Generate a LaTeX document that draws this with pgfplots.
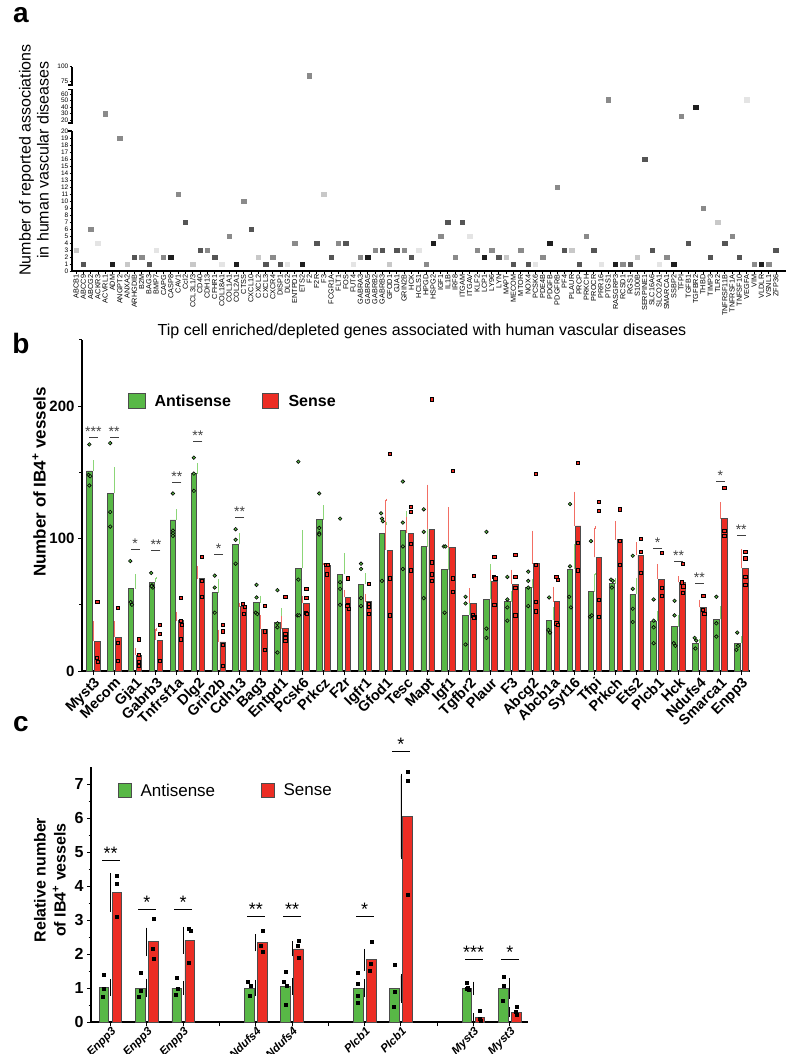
\documentclass[border=0pt]{standalone}
\usepackage{fontspec}
\setmainfont{Liberation Sans}
\usepackage{pgfplots}
\pgfplotsset{compat=1.18}
\definecolor{bgreen}{RGB}{88,184,70}
\definecolor{bred}{RGB}{236,45,36}
\definecolor{egreen}{RGB}{140,214,120}
\definecolor{ered}{RGB}{242,110,100}
\newcommand{\fs}[1]{\fontsize{#1}{#1}\selectfont}
\pgfplotsset{
  /pgf/number format/assume math mode=true,
}
\begin{document}
\begin{tikzpicture}
\useasboundingbox (0,0) rectangle (800bp,-1054bp);
% ---------------- panel labels
\node[font=\fs{28bp}\bfseries] at (21bp,-15bp) {a};
\node[font=\fs{28bp}\bfseries] at (21bp,-343bp) {b};
\node[font=\fs{28bp}\bfseries] at (21bp,-724bp) {c};
% ---------------- panel a
\node[rotate=90, align=center, font=\fontsize{16bp}{18bp}\selectfont] at (34bp,-160bp) {Number of reported associations\\in human vascular diseases};
\node[font=\fs{16bp}] at (422bp,-331bp) {Tip cell enriched/depleted genes associated with human vascular diseases};
\begin{axis}[
 at={(72bp,-271bp)}, anchor=south west, scale only axis,
 width=714bp, height=204.3bp,
 xmin=-0.55, xmax=97.39, ymin=0, ymax=29.19,
 axis x line*=bottom, axis y line*=left,
 x axis line style={line width=1.3bp,-},
 y axis line style={draw=none},
 clip=false,
 tick align=outside, major tick length=2.5bp,
 tick style={line width=0.7bp, black},
 xtick={0,...,96},
 xticklabels={ABCB1,ABCC9,ABCG2,ACKR3,ACVRL1,ADM,ANGPT2,ANXA2,ARHGDIB,B2M,BAG3,BMP7,CAPG,CASP8,CAV1,Ccl2,CCL3L1/3,CD40,CDH13,CFHR1,COL18A1,COL1A1,COL2A1,CTSS,CXCL10,CXCL2,CXCL3,CXCR4,DISP1,DLG2,ENTPD1,ETS2,F2,F2R,F3,FCGR1A,FLT1,FOS,FUT4,GABRA3,GABRA5,GABRB2,GABRB3,GFOD1,GJA1,GRIN2B,HCK,HCLS1,HPGD,HSPG2,IGF1,IL1B,IRF8,ITGAM,ITGAV,KLF2,LCP1,LY96,LYN,MAPT,MECOM,MTOR,NOX4,PCSK6,PDE4B,PDGFB,PDGFRB,PF4,PLAUR,PRCP,PRKCH,PROCR,PRR16,PTGS1,RASGRP3,RCSD1,RGS1,S100B,SERPINE1,SLC16A6,SLCO2A1,SMARCA1,SSBP2,TFPI,TGFB1,TGFBR2,THBD,TIMP3,TLR2,TNFRSF11B,TNFRSF1A,TNFSF10,VEGFA,VIM,VLDLR,VSNL1,ZFP36},
 x tick label style={rotate=90, anchor=east, font=\fs{7.3bp}, inner sep=1bp},
 ytick={0,1,2,3,4,5,6,7,8,9,10,11,12,13,14,15,16,17,18,19,20,21.57,22.50,23.43,24.36,25.29,27.14,29.19},
 yticklabels={0,1,2,3,4,5,6,7,8,9,10,11,12,13,14,15,16,17,18,19,20,20,30,40,50,60,75,100},
 y tick label style={font=\fs{6.5bp}, inner sep=1bp},
 point meta min=0, point meta max=4,
 colormap={grays}{rgb255=(30,30,30) rgb255=(85,85,85) rgb255=(138,138,138) rgb255=(200,200,200) rgb255=(228,228,228)},
]
\addplot[scatter, only marks, mark=square*, mark size=2.2bp, scatter src=explicit,
  scatter/use mapped color={draw=mapped color, fill=mapped color}]
 table[x=x, y=y, meta=s] {
x y s
0 3 3
1 1 1
2 6 2
3 4 4
4 22.50 2
5 1 0
6 19 2
7 1 3
8 2 1
9 2 2
10 1 1
11 3 4
12 2 2
13 2 0
14 11 2
15 7 1
16 1 3
17 3 1
18 3 2
19 2 1
20 1 4
21 5 2
22 1 0
23 10 2
24 6 1
25 2 3
26 1 1
27 2 2
28 1 1
29 1 4
30 4 2
31 1 0
32 27.88 2
33 4 1
34 11 3
35 2 1
36 4 2
37 4 1
38 1 4
39 2 2
40 2 0
41 3 2
42 3 1
43 1 3
44 3 1
45 3 2
46 2 1
47 3 4
48 1 2
49 4 0
50 5 2
51 7 1
52 2 2
53 7 1
54 5 4
55 3 2
56 2 0
57 3 2
58 2 1
59 2 3
60 1 1
61 3 2
62 1 1
63 1 4
64 2 2
65 4 0
66 12 2
67 3 1
68 3 3
69 1 1
70 5 2
71 3 1
72 1 4
73 24.45 2
74 1 0
75 1 2
76 1 1
77 2 3
78 16 1
79 3 1
80 1 4
81 2 2
82 1 0
83 22.13 2
84 4 1
85 23.43 0
86 9 2
87 2 1
88 7 3
89 4 1
90 5 2
91 2 1
92 24.45 4
93 1 2
94 1 0
95 1 2
96 3 1
};
% broken y axis
\draw[line width=1.3bp] (axis cs:-0.55,0) -- (axis cs:-0.55,20);
\draw[line width=1.3bp] ([xshift=-4bp]axis cs:-0.55,20) -- (axis cs:-0.55,20);
\draw[line width=1.3bp] ([xshift=-4bp]axis cs:-0.55,21.14) -- (axis cs:-0.55,21.14) -- (axis cs:-0.55,25.93) -- ([xshift=-4bp]axis cs:-0.55,25.93);
\draw[line width=1.3bp] ([xshift=-4bp]axis cs:-0.55,26.57) -- (axis cs:-0.55,26.57) -- (axis cs:-0.55,29.19);
\end{axis}
% ---------------- panel b
\node[rotate=90, font=\fs{17bp}\bfseries] at (39bp,-482bp) {Number of IB4\textsuperscript{+} vessels};
\fill[bgreen, draw=black!70, line width=0.8bp] (128bp,-393bp) rectangle (145bp,-408bp);
\node[anchor=west, font=\fs{16bp}\bfseries] at (151bp,-400.5bp) {Antisense};
\fill[bred, draw=black!70, line width=0.8bp] (262bp,-393bp) rectangle (278bp,-408bp);
\node[anchor=west, font=\fs{16bp}\bfseries] at (285bp,-400.5bp) {Sense};
\begin{axis}[
 at={(82bp,-671bp)}, anchor=south west, scale only axis,
 width=668bp, height=331.25bp,
 xmin=-0.54, xmax=31.42, ymin=0, ymax=250,
 axis x line*=bottom, axis y line*=left,
 axis line style={line width=1.4bp,-},
 clip=false,
 tick align=outside, major tick length=4bp,
 tick style={line width=1bp, black},
 ytick={0,100,200}, minor ytick={50,150,250}, minor tick length=3bp,
 y tick label style={font=\fs{15bp}\bfseries},
 xtick={0,...,31},
 xticklabels={Myst3,Mecom,Gja1,Gabrb3,Tnfrsf1a,Dlg2,Grin2b,Cdh13,Bag3,Entpd1,Pcsk6,Prkcz,F2r,Igfr1,Gfod1,Tesc,Mapt,Igf1,Tgfbr2,Plaur,F3,Abcg2,Abcb1a,Syt16,Tfpi,Prkch,Ets2,Plcb1,Hck,Ndufs4,Smarca1,Enpp3},
 x tick label style={rotate=45, anchor=north east, font=\fs{14.5bp}\bfseries, inner sep=1bp},
]
\addplot[ybar, bar width=5.5bp, bar shift=-4bp, fill=bgreen, draw=black!70, line width=0.8bp,
  error bars/.cd, y dir=plus, y explicit,
  error bar style={color=egreen, line width=1bp},
  error mark options={color=egreen, mark size=1.2bp, line width=0.8bp}]
 table[x=x, y=m, y error=e] {
x m e
0 151 7
1 134 19
2 62 10
3 67 3
4 114 7
5 149 7
6 59 9.6
7 95.5 7.5
8 51.5 4.5
9 36.4 10
10 77.5 28
11 114.3 10
12 73 15
13 65.3 7.7
14 103.8 7.5
15 105.8 14
16 93.7 20.3
17 76.6 17
18 42 11.5
19 54 26
20 52.3 7
21 63 5.6
22 38.4 8.8
23 76.9 18
24 59.8 13.2
25 66 3
26 57.8 11.5
27 37.7 7
28 33.4 8.3
29 20.9 2
30 38.9 9
31 20.9 4.5
};
\addplot[ybar, bar width=5.5bp, bar shift=4bp, fill=bred, draw=black!70, line width=0.8bp,
  error bars/.cd, y dir=plus, y explicit,
  error bar style={color=ered, line width=1bp},
  error mark options={color=ered, mark size=1.2bp, line width=0.8bp}]
 table[x=x, y=m, y error=e] {
x m e
0 22.6 14.4
1 25.6 11.4
2 12 4.6
3 23.4 8
4 37.9 6
5 69.6 9
6 21.9 8.5
7 48.5 2
8 31.4 10
9 32 8.5
10 51 5
11 79.9 1
12 55.5 5
13 52.3 5
14 91.2 38
15 103.8 11.2
16 106.8 33
17 93.2 29.4
18 51 10.6
19 67.8 7.8
20 65.6 10
21 81 24
22 52.3 10.5
23 109.5 25
24 85.7 22.6
25 99 13
26 87.4 8.8
27 69.3 10.7
28 66.8 3.8
29 48 5
30 114.8 11.6
31 77.4 13.8
};
\addplot[only marks, mark=*, mark size=1.8bp, mark options={fill=bgreen, draw=black, line width=0.6bp}]
 table {
-0.19 171
-0.23 148
-0.15 147
-0.19 140
0.81 172
0.81 120
0.81 109
1.77 83
1.79 52
1.85 50
2.77 74
2.81 64.6
2.85 63
2.79 64
3.81 134
3.81 106
3.81 104
3.81 102
4.81 161
4.81 149
4.81 136
5.81 72
5.81 63
5.81 44
6.81 107
6.81 99
6.81 81
7.81 65
7.81 55.5
7.77 44
7.85 43
8.81 61
8.81 36
8.81 33
8.81 14
9.81 158
9.81 69
9.77 42
9.85 42
10.81 134
10.81 108
10.81 104
10.81 103
11.81 115
11.81 67
11.81 62
11.81 50
12.81 81
12.81 77
12.81 55
12.81 49
13.77 119
13.81 115
13.85 113
13.81 68
14.81 143
14.81 112
14.81 94
14.81 77
15.81 122
15.81 105
15.81 55
16.77 94
16.85 94
16.81 44
17.81 56
17.81 51
17.81 20
18.81 105
18.81 32
18.81 25
19.81 71
19.81 54
19.81 48
19.81 38
20.81 75
20.81 68
20.81 63
20.81 49
21.81 55.5
21.77 31
21.85 29
22.81 126
22.81 79
22.77 56
22.85 48
23.81 98
23.77 41
23.85 42
24.77 69
24.85 68
24.81 63
25.81 87
25.81 62
25.81 47
25.81 37
26.81 54
26.81 38
26.81 33
26.81 21
27.81 53
27.81 42
27.77 21
27.85 19
28.77 25
28.85 23
28.81 17
29.81 56
29.81 36
29.81 26
30.81 29
30.77 16
30.85 19
};
\addplot[only marks, mark=square*, mark size=1.6bp, mark options={fill=bred, draw=black, line width=0.6bp}]
 table {
0.19 52
0.15 10
0.23 7
1.19 48
1.19 21
1.19 8
2.19 24
2.19 12
2.19 7
2.19 4
3.19 35
3.19 28
3.19 8
4.19 55
4.19 38
4.23 35
4.19 24
5.19 86
5.19 68
5.19 56
6.19 35
6.19 30
6.19 20
6.19 4
7.15 50.5
7.23 48.5
7.19 43
8.19 49
8.19 30
8.19 16
9.19 56
9.19 28
9.19 25
9.19 23
10.19 62
10.19 55
10.15 44
10.23 43
11.15 80
11.23 80
11.19 73
12.19 70
12.19 50
12.15 49
12.23 47
13.19 66
13.19 51
13.19 48.5
13.19 43
14.19 164
14.19 70
14.19 42
15.19 124
15.19 120
15.19 96
15.19 76
16.19 205
16.19 82
16.19 73
16.19 68
17.19 151
17.19 70
17.19 60
18.19 72
18.15 42
18.23 40.5
18.19 40
19.19 86
19.15 71
19.23 70
19.19 50
20.19 88
20.19 71
20.19 63
20.19 42
21.19 149
21.19 80
21.19 52
21.19 45
22.15 71
22.23 69
22.15 36
22.23 35
23.19 157
23.19 97
23.19 76
24.19 128
24.19 121
24.19 54
24.19 41
25.19 122
25.19 98
25.19 80
26.19 100
26.19 90
26.19 74
27.19 89
27.19 63
27.19 57
28.19 81
28.15 67
28.23 64
28.19 59
29.19 57
29.15 46
29.23 43
30.19 138
30.19 106
30.19 102
31.19 90
31.19 85
31.19 71
31.19 65
};
\addplot[only marks, mark=-, mark size=4.5bp, mark options={line width=1bp, draw=black!75},
  nodes near coords, point meta=explicit symbolic,
  nodes near coords style={anchor=south, font=\fs{14bp}, text=black!75, inner sep=0.5bp}]
 table[x=x, y=y, meta=s] {
x y s
0 176 ***
1 176 **
2 91.7 *
3 91 **
4 142 **
5 173 **
6 88 *
7 116 **
27 92.5 *
28 83 **
29 66 **
30 142.7 *
31 102.5 **
};
\end{axis}
% ---------------- panel c
\node[rotate=90, align=center, font=\fontsize{16bp}{20bp}\selectfont\bfseries] at (50bp,-880bp) {Relative number\\of IB4\textsuperscript{+} vessels};
\fill[bgreen, draw=black!70, line width=0.8bp] (118bp,-783bp) rectangle (131bp,-797bp);
\node[anchor=west, font=\fs{17bp}] at (137bp,-790bp) {Antisense};
\fill[bred, draw=black!70, line width=0.8bp] (261bp,-783bp) rectangle (274bp,-797bp);
\node[anchor=west, font=\fs{17bp}] at (280bp,-790bp) {Sense};
\begin{axis}[
 at={(91bp,-1022bp)}, anchor=south west, scale only axis,
 width=437bp, height=255bp,
 xmin=-0.54, xmax=11.5, ymin=0, ymax=7.5,
 axis x line*=bottom, axis y line*=left,
 axis line style={line width=1.4bp,-},
 clip=false,
 tick align=outside, major tick length=4bp, minor tick length=2.5bp,
 tick style={line width=1bp, black},
 ytick={0,1,2,3,4,5,6,7}, minor y tick num=1,
 y tick label style={font=\fs{16bp}\bfseries},
 xtick={0,...,11},
 xticklabels={Enpp3,Enpp3,Enpp3,,Ndufs4,Ndufs4,,Plcb1,Plcb1,,Myst3,Myst3},
 x tick label style={rotate=45, anchor=north east, font=\fs{11.5bp}\bfseries\itshape, inner sep=0bp},
]
\addplot[ybar, bar width=9.5bp, bar shift=-6.5bp, fill=bgreen, draw=black!70, line width=0.8bp,
  error bars/.cd, y dir=both, y explicit,
  error bar style={color=black, line width=0.8bp},
  error mark options={color=black, mark size=2bp, line width=0.8bp}]
 table[x=x, y=m, y error=e] {
x m e
0 1.01 0.19
1 1.0 0.22
2 1.0 0.15
4 1.0 0.18
5 1.05 0.19
7 0.99 0.21
8 0.99 0.37
10 0.99 0.14
11 0.99 0.25
};
\addplot[ybar, bar width=9.5bp, bar shift=6.5bp, fill=bred, draw=black!70, line width=0.8bp,
  error bars/.cd, y dir=both, y explicit,
  error bar style={color=black, line width=0.8bp},
  error mark options={color=black, mark size=2bp, line width=0.8bp}]
 table[x=x, y=m, y error=e] {
x m e
0 3.81 0.51
1 2.36 0.36
2 2.4 0.34
4 2.33 0.19
5 2.15 0.16
7 1.83 0.26
8 6.05 1.2
10 0.13 0.08
11 0.29 0.09
};
\addplot[only marks, mark=square*, mark size=1.5bp, mark options={fill=black, draw=black}]
 table {
-0.18 1.4
-0.18 0.99
-0.22 0.73
0.82 1.45
0.84 0.91
0.78 0.73
1.82 1.29
1.84 0.97
1.8 0.8
3.78 1.2
3.86 1.07
3.82 0.77
4.82 1.47
4.78 1.18
4.86 1.07
4.82 0.52
6.82 1.45
6.82 1.13
6.8 0.77
6.82 0.56
7.82 1.69
7.82 0.88
7.8 0.45
9.8 1.16
9.84 1.02
9.82 0.97
9.86 0.95
10.82 1.32
10.84 1.07
10.8 0.64
};
\addplot[only marks, mark=square*, mark size=1.5bp, mark options={fill=black, draw=black}]
 table {
0.18 4.3
0.18 4.08
0.18 3.09
1.18 3.04
1.16 2.15
1.18 1.85
2.14 2.74
2.2 2.7
2.16 1.74
4.18 2.7
4.14 2.25
4.2 2.06
5.18 2.4
5.16 2.25
5.18 1.88
7.2 2.36
7.16 1.72
7.14 1.5
8.18 7.36
8.18 7.09
8.18 3.74
10.18 0.34
10.16 0.11
10.2 0.05
11.18 0.45
11.16 0.3
11.2 0.21
};
\addplot[only marks, mark=-, mark size=9bp, mark options={line width=1.2bp, draw=black},
  nodes near coords, point meta=explicit symbolic,
  nodes near coords style={anchor=south, font=\fs{18bp}, text=black, inner sep=0.5bp}]
 table[x=x, y=y, meta=s] {
x y s
0 4.75 **
1 3.3 *
2 3.3 *
4 3.1 **
5 3.1 **
7 3.1 *
8 7.95 *
10 1.83 ***
11 1.83 *
};
\end{axis}
\end{tikzpicture}
\end{document}
